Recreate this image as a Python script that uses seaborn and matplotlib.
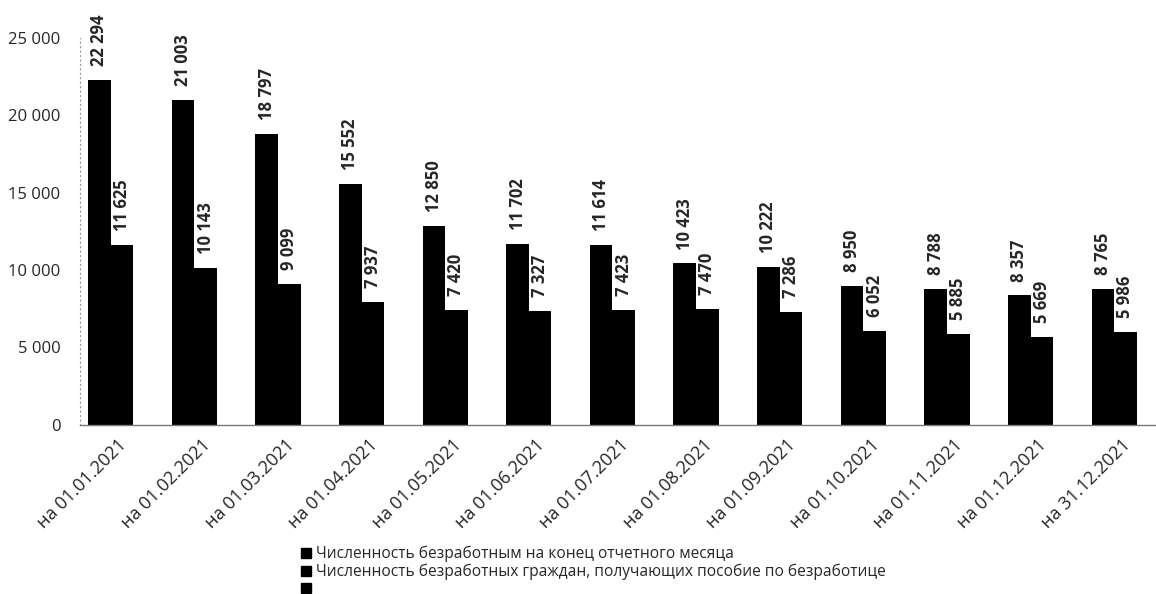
import matplotlib
matplotlib.use('Agg')
import matplotlib.pyplot as plt
import matplotlib.transforms as mtransforms
import seaborn as sns
import pandas as pd
from matplotlib.patches import Patch

dates = ['на 01.01.2021', 'на 01.02.2021', 'на 01.03.2021', 'на 01.04.2021',
         'на 01.05.2021', 'на 01.06.2021', 'на 01.07.2021', 'на 01.08.2021',
         'на 01.09.2021', 'на 01.10.2021', 'на 01.11.2021', 'на 01.12.2021',
         'на 31.12.2021']
unemployed = [22294, 21003, 18797, 15552, 12850, 11702, 11614, 10423,
              10222, 8950, 8788, 8357, 8765]
benefit = [11625, 10143, 9099, 7937, 7420, 7327, 7423, 7470,
           7286, 6052, 5885, 5669, 5986]
series_names = ['Численность безработным на конец отчетного месяца',
                'Численность безработных граждан, получающих пособие по безработице',
                ' ']
yticks = [0, 5000, 10000, 15000, 20000, 25000]

df = pd.DataFrame({'date': dates * 2,
                   'value': unemployed + benefit,
                   'series': [series_names[0]] * len(dates) + [series_names[1]] * len(dates)})

sns.set_style('white')
plt.rcParams['font.family'] = ['Open Sans', 'DejaVu Sans']

fig = plt.figure(figsize=(11.56, 5.94), dpi=100)
ax = fig.add_axes([0.069, 0.285, 0.931, 0.651])

sns.barplot(data=df, x='date', y='value', hue='series', palette=['black', 'black'],
            width=0.54, gap=0, ax=ax, legend=False, saturation=1, linewidth=0)

for cont in ax.containers:
    labels = [f'{int(v):,}'.replace(',', ' ') for v in cont.datavalues]
    ax.bar_label(cont, labels=labels, rotation=90, padding=10, fontsize=12,
                 fontweight='bold', clip_on=False)

ax.set_ylim(0, 25000)
ax.set_xlim(-0.37, 12.5)
ax.set_yticks(yticks)
ax.set_yticklabels([f'{t:,}'.replace(',', ' ') for t in yticks], fontsize=12)
ax.set_xlabel('')
ax.set_ylabel('')
ax.tick_params(axis='y', length=0, pad=14)
ax.tick_params(axis='x', length=0, pad=8)
# labels sit a little right of the group centre, like in the source
shift = mtransforms.ScaledTranslation(7 / 100, 0, fig.dpi_scale_trans)
for lbl in ax.get_xticklabels():
    lbl.set_rotation(45)
    lbl.set_ha('right')
    lbl.set_rotation_mode('anchor')
    lbl.set_fontsize(13)
    lbl.set_transform(lbl.get_transform() + shift)

for s in ['top', 'right']:
    ax.spines[s].set_visible(False)
ax.spines['left'].set_linestyle((0, (1, 3)))
ax.spines['left'].set_color('#999999')
ax.spines['left'].set_linewidth(0.8)
ax.spines['bottom'].set_color('#777777')
ax.spines['bottom'].set_linewidth(1.0)

handles = [Patch(color='black') for _ in series_names]
fig.legend(handles, series_names, loc='upper left', bbox_to_anchor=(0.254, 0.094),
           frameon=False, handlelength=0.6, handleheight=0.6, handletextpad=0.35,
           labelspacing=0.1, fontsize=11.2, borderpad=0)

fig.savefig('out.png', dpi=100)
